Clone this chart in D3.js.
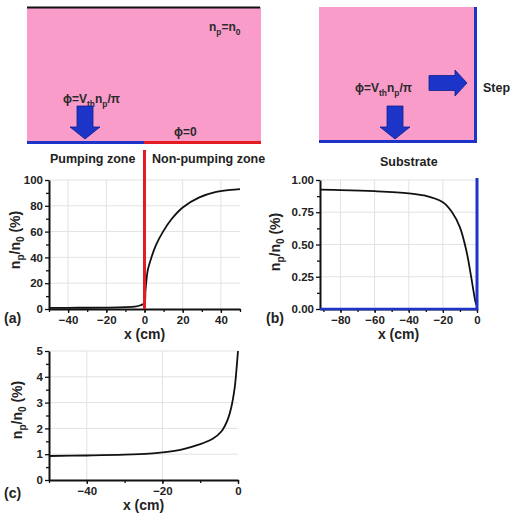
<!DOCTYPE html>
<html>
<head>
<meta charset="utf-8">
<script src="https://cdn.jsdelivr.net/npm/d3@7"></script>
<style>
  body { margin: 0; background: #fff; }
  svg { font-family: "Liberation Sans", Arial, sans-serif; font-weight: bold; }
  .axis text { font-family: "Liberation Sans", Arial, sans-serif; font-weight: bold; font-size: 11.5px; fill: #222; }
  .grid line { stroke: #e2e2e2; stroke-width: 1; }
  .axis path, .axis line { stroke: #111; }
</style>
</head>
<body>
<div id="graphic"></div>
<script>
// panel (a): full profile across the pumping / non-pumping boundary
const aX = [-50, -40, -30, -20, -10, -5, -2, -1, 0, 0.5, 1, 1.7, 3.4, 6, 9.7, 14, 20, 28.7, 37, 45, 50];
const aY = [0.93, 0.95, 0.98, 1.07, 1.38, 1.9, 2.9, 3.7, 4.4, 14, 22, 30, 39, 49.5, 60, 69.4, 78.7, 86.5, 90.6, 92.3, 92.9];

// panel (b): towards the step
const bX = [-92, -80, -60, -40, -31, -20, -14.6, -10, -6.2, -3.3, -0.8, 0];
const bY = [0.925, 0.922, 0.913, 0.897, 0.88, 0.827, 0.75, 0.633, 0.45, 0.24, 0.05, 0.02];

// panel (c): pumping zone close up
const cX = [-50, -40, -30, -23.5, -20, -14.7, -10.2, -6.7, -4.4, -2.7, -1.8, -0.9, -0.45, 0];
const cY = [0.93, 0.95, 0.98, 1.02, 1.07, 1.19, 1.38, 1.6, 1.88, 2.35, 2.8, 3.55, 4.2, 5.0];

// tick labels
const aXTicks = [-40, -20, 0, 20, 40];
const aYTicks = [0, 20, 40, 60, 80, 100];
const bXTicks = [-80, -60, -40, -20, 0];
const bYTicks = [0, 0.25, 0.5, 0.75, 1];
const cXTicks = [-40, -20, 0];
const cYTicks = [0, 1, 2, 3, 4, 5];

const pink = "#f99cca";
const blue = "#1c35c8";
const red = "#e31b23";

const svg = d3.select("#graphic").append("svg")
  .attr("width", 510).attr("height", 514);

// ---------- schematic (a) ----------
const s1 = svg.append("g");
s1.append("rect").attr("x", 27).attr("y", 7).attr("width", 234).attr("height", 135).attr("fill", pink);
s1.append("line").attr("x1", 27).attr("x2", 260).attr("y1", 7.5).attr("y2", 7.5).attr("stroke", "#111").attr("stroke-width", 2);
s1.append("line").attr("x1", 27).attr("x2", 144).attr("y1", 142.5).attr("y2", 142.5).attr("stroke", blue).attr("stroke-width", 3);
s1.append("line").attr("x1", 144).attr("x2", 261).attr("y1", 142.5).attr("y2", 142.5).attr("stroke", red).attr("stroke-width", 3);

function subText(g, x, y, parts, size, anchor) {
  const t = g.append("text").attr("x", x).attr("y", y).attr("font-size", size)
    .attr("fill", "#2a2a2a").attr("text-anchor", anchor || "start");
  parts.forEach(p => {
    const ts = t.append("tspan").text(p[0]);
    if (p[1]) ts.attr("font-size", size * 0.7).attr("dy", size * 0.3);
    else if (p[2]) ts.attr("dy", -size * 0.3);
  });
  return t;
}

subText(s1, 209, 31, [["n"], ["p", 1], ["=n", 0, 1], ["0", 1]], 12);
subText(s1, 63, 103, [["\u03d5=V"], ["th", 1], ["n", 0, 1], ["p", 1], ["/\u03c0", 0, 1]], 12);
subText(s1, 174, 136, [["\u03d5=0"]], 12);

function downArrow(g, cx, y0, y1, sw, hw, hl) {
  g.append("path")
    .attr("d", `M${cx - sw / 2},${y0} L${cx + sw / 2},${y0} L${cx + sw / 2},${y1 - hl} L${cx + hw / 2},${y1 - hl} L${cx},${y1} L${cx - hw / 2},${y1 - hl} L${cx - sw / 2},${y1 - hl} Z`)
    .attr("fill", blue).attr("stroke", "#0c1f8a").attr("stroke-width", 0.8);
}
function rightArrow(g, x0, x1, cy, sw, hw, hl) {
  g.append("path")
    .attr("d", `M${x0},${cy - sw / 2} L${x1 - hl},${cy - sw / 2} L${x1 - hl},${cy - hw / 2} L${x1},${cy} L${x1 - hl},${cy + hw / 2} L${x1 - hl},${cy + sw / 2} L${x0},${cy + sw / 2} Z`)
    .attr("fill", blue).attr("stroke", "#0c1f8a").attr("stroke-width", 0.8);
}
downArrow(s1, 85, 106, 139, 16, 30, 12);

svg.append("text").attr("x", 50).attr("y", 163).attr("font-size", 12.5).attr("fill", "#222").text("Pumping zone");
svg.append("text").attr("x", 152).attr("y", 163).attr("font-size", 12.5).attr("fill", "#222").text("Non-pumping zone");

// ---------- schematic (b) ----------
const s2 = svg.append("g");
s2.append("rect").attr("x", 319).attr("y", 7).attr("width", 156).attr("height", 134).attr("fill", pink);
s2.append("line").attr("x1", 475.5).attr("x2", 475.5).attr("y1", 7).attr("y2", 143).attr("stroke", blue).attr("stroke-width", 3);
s2.append("line").attr("x1", 319).attr("x2", 477).attr("y1", 141.5).attr("y2", 141.5).attr("stroke", blue).attr("stroke-width", 3);
subText(s2, 355, 92, [["\u03d5=V"], ["th", 1], ["n", 0, 1], ["p", 1], ["/\u03c0", 0, 1]], 12);
rightArrow(s2, 429, 467, 83, 15, 26, 12);
downArrow(s2, 395, 106, 139, 16, 30, 12);
svg.append("text").attr("x", 483).attr("y", 92).attr("font-size", 12.5).attr("fill", "#222").text("Step");
svg.append("text").attr("x", 380).attr("y", 166).attr("font-size", 12.5).attr("fill", "#222").text("Substrate");

// ---------- charts ----------
function drawChart(o) {
  const g = svg.append("g");
  const x = d3.scaleLinear().domain(o.xDomain).range([o.left, o.right]);
  const y = d3.scaleLinear().domain(o.yDomain).range([o.bottom, o.top]);

  // grid
  const grid = g.append("g").attr("class", "grid");
  grid.selectAll(".v").data(o.xTicks.filter(d => d !== o.xDomain[1])).join("line")
    .attr("x1", d => x(d)).attr("x2", d => x(d)).attr("y1", o.top).attr("y2", o.bottom);
  grid.selectAll(".h").data(o.yTicks.filter(d => d !== o.yDomain[0])).join("line")
    .attr("x1", o.left).attr("x2", o.right).attr("y1", d => y(d)).attr("y2", d => y(d));

  // minor ticks
  g.append("g").attr("class", "axis").attr("transform", `translate(0,${o.bottom})`)
    .call(d3.axisBottom(x).tickValues(o.xMinor).tickSize(3).tickFormat(""))
    .call(s => s.select(".domain").remove());
  g.append("g").attr("class", "axis").attr("transform", `translate(${o.left},0)`)
    .call(d3.axisLeft(y).tickValues(o.yMinor).tickSize(3).tickFormat(""))
    .call(s => s.select(".domain").remove());

  // major axes
  const xa = g.append("g").attr("class", "axis").attr("transform", `translate(0,${o.bottom})`)
    .call(d3.axisBottom(x).tickValues(o.xTicks).tickSize(4).tickSizeOuter(0).tickPadding(3));
  xa.select(".domain").attr("stroke-width", 2).attr("stroke", o.xAxisColor || "#111");
  g.append("g").attr("class", "axis").attr("transform", `translate(${o.left},0)`)
    .call(d3.axisLeft(y).tickValues(o.yTicks).tickSize(4).tickSizeOuter(0).tickPadding(2).tickFormat(o.yFormat))
    .select(".domain").attr("stroke-width", 2);

  g.selectAll(".axis line").attr("stroke-width", 1.3);

  const line = d3.line().x((d, i) => x(o.xs[i])).y(d => y(d)).curve(d3.curveCatmullRom.alpha(0.5));
  g.append("path").datum(o.ys).attr("d", line)
    .attr("fill", "none").attr("stroke", "#111").attr("stroke-width", 1.8);

  if (o.after) o.after(g, x, y);

  // labels
  const lab = g.append("text")
    .attr("transform", `translate(${o.yLabelX},${o.yLabelY}) rotate(-90)`)
    .attr("text-anchor", "middle").attr("font-size", 14).attr("fill", "#222");
  lab.append("tspan").text("n");
  lab.append("tspan").text("p").attr("font-size", 10).attr("dy", 4);
  lab.append("tspan").text("/n").attr("dy", -4);
  lab.append("tspan").text("0").attr("font-size", 10).attr("dy", 4);
  lab.append("tspan").text(" (%)").attr("dy", -4);

  g.append("text").attr("x", (o.left + o.right) / 2).attr("y", o.bottom + 30)
    .attr("text-anchor", "middle").attr("font-size", 14).attr("fill", "#222").text("x (cm)");
  g.append("text").attr("x", o.tagX).attr("y", o.bottom + o.tagDy)
    .attr("font-size", 14).attr("fill", "#222").text(o.tag);
}

drawChart({
  xs: aX, ys: aY, xDomain: [-50, 50], yDomain: [0, 100],
  left: 49, right: 240, top: 180, bottom: 309,
  xTicks: aXTicks, yTicks: aYTicks,
  xMinor: d3.range(-50, 51, 10), yMinor: d3.range(10, 100, 20),
  yFormat: d3.format("d"),
  yLabelX: 20, yLabelY: 240, tag: "(a)", tagX: 4, tagDy: 14,
  after: (g, x) => {
    g.append("line").attr("x1", x(0)).attr("x2", x(0)).attr("y1", 150).attr("y2", 309)
      .attr("stroke", red).attr("stroke-width", 3);
  }
});

drawChart({
  xs: bX, ys: bY, xDomain: [-92, 0], yDomain: [0, 1],
  left: 320, right: 477, top: 180, bottom: 309,
  xTicks: bXTicks, yTicks: bYTicks,
  xMinor: d3.range(-90, 1, 10), yMinor: [0.125, 0.375, 0.625, 0.875],
  yFormat: d3.format(".2f"), xAxisColor: blue,
  yLabelX: 280, yLabelY: 242, tag: "(b)", tagX: 266, tagDy: 14,
  after: (g, x) => {
    g.append("line").attr("x1", x(0)).attr("x2", x(0)).attr("y1", 178).attr("y2", 310)
      .attr("stroke", blue).attr("stroke-width", 3);
    g.append("line").attr("x1", 320).attr("x2", 478).attr("y1", 309).attr("y2", 309)
      .attr("stroke", blue).attr("stroke-width", 2.5);
  }
});

drawChart({
  xs: cX, ys: cY, xDomain: [-50, 0], yDomain: [0, 5],
  left: 49, right: 238, top: 351, bottom: 480,
  xTicks: cXTicks, yTicks: cYTicks,
  xMinor: d3.range(-50, 1, 10), yMinor: d3.range(0.5, 5, 1),
  yFormat: d3.format("d"),
  yLabelX: 22, yLabelY: 410, tag: "(c)", tagX: 4, tagDy: 18
});
</script>
</body>
</html>
